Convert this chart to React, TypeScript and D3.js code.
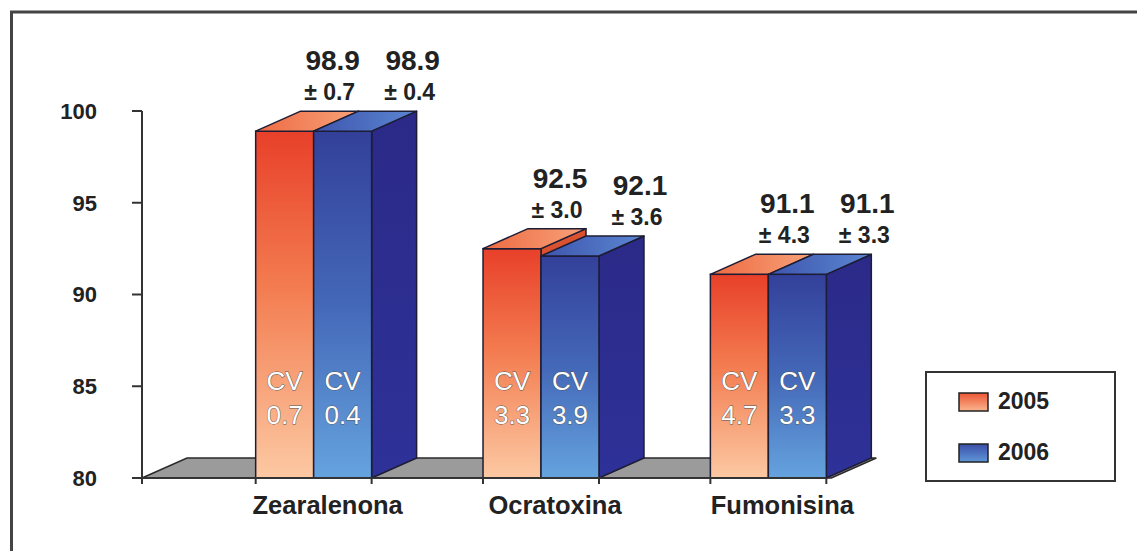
import * as d3 from 'd3';

const categories = ['Zearalenona', 'Ocratoxina', 'Fumonisina'];
const series = ['2005', '2006'];
const mean2005 = [98.9, 92.5, 91.1];
const mean2006 = [98.9, 92.1, 91.1];
const sd2005 = ['0.7', '3.0', '4.3'];
const sd2006 = ['0.4', '3.6', '3.3'];
const cv2005 = ['0.7', '3.3', '4.7'];
const cv2006 = ['0.4', '3.9', '3.3'];
const yTicks = [80, 85, 90, 95, 100];

const W = 1137;
const H = 551;
const FONT = '"Liberation Sans", Arial, sans-serif';
const DX = 45; // depth of the 3d boxes
const DY = 20;

export default function App() {
  const y = d3.scaleLinear().domain([80, 100]).range([478, 111]);
  const x0 = d3.scaleBand<string>()
    .domain(categories)
    .range([142, 940])
    .paddingInner(0.49)
    .paddingOuter(0.5);
  const x1 = d3.scaleBand<string>().domain(series).range([0, x0.bandwidth()]);
  const bw = x1.bandwidth();

  const rows = categories.map((c, i) => ({
    cat: c,
    bars: [
      { s: '2005', v: mean2005[i], sd: sd2005[i], cv: cv2005[i], off: 48 },
      { s: '2006', v: mean2006[i], sd: sd2006[i], cv: cv2006[i], off: 70 },
    ],
  }));

  const base = y(80);
  const xStart = x0.range()[0];
  const xEnd = (x0(categories[categories.length - 1]) ?? 0) + x0.bandwidth() + 5;

  const floor = d3.path();
  floor.moveTo(xStart, base);
  floor.lineTo(xEnd, base);
  floor.lineTo(xEnd + DX, base - DY);
  floor.lineTo(xStart + DX, base - DY);
  floor.closePath();

  const xTicks = [xStart, ...categories.flatMap((c) => [x0(c) ?? 0, (x0(c) ?? 0) + x0.bandwidth()])];

  const stroke = '#1d1d35';

  return (
    <svg width={W} height={H} style={{ position: 'absolute', left: 0, top: 0, background: '#fff' }}>
      <defs>
        <linearGradient id="g2005" x1="0" y1="0" x2="0" y2="1">
          <stop offset="0%" stopColor="#e8402a" />
          <stop offset="45%" stopColor="#f37c50" />
          <stop offset="100%" stopColor="#fcc9a3" />
        </linearGradient>
        <linearGradient id="g2006" x1="0" y1="0" x2="0" y2="1">
          <stop offset="0%" stopColor="#33409a" />
          <stop offset="50%" stopColor="#4468b8" />
          <stop offset="100%" stopColor="#65a3de" />
        </linearGradient>
        <linearGradient id="side" x1="0" y1="0" x2="0" y2="1">
          <stop offset="0%" stopColor="#2b2a88" />
          <stop offset="100%" stopColor="#2e3198" />
        </linearGradient>
        <linearGradient id="top2005" x1="0" y1="0" x2="1" y2="0">
          <stop offset="0%" stopColor="#ee6a42" />
          <stop offset="100%" stopColor="#f7a27a" />
        </linearGradient>
        <linearGradient id="top2006" x1="0" y1="0" x2="1" y2="0">
          <stop offset="0%" stopColor="#3d55ad" />
          <stop offset="100%" stopColor="#5c86d2" />
        </linearGradient>
        <linearGradient id="leg2005" x1="0" y1="0" x2="0" y2="1">
          <stop offset="0%" stopColor="#ec5634" />
          <stop offset="100%" stopColor="#f9b58e" />
        </linearGradient>
        <linearGradient id="leg2006" x1="0" y1="0" x2="0" y2="1">
          <stop offset="0%" stopColor="#3a4ea8" />
          <stop offset="100%" stopColor="#5f97d8" />
        </linearGradient>
      </defs>

      {/* frame */}
      <path d={`M11.5,${H} V12 H${W}`} fill="none" stroke="#444" strokeWidth={3} />

      {/* floor */}
      <path d={floor.toString()} fill="#9b9b9b" stroke="#2a2a2a" strokeWidth={1.5} />

      {/* bars */}
      {rows.map((r) => {
        const gx = x0(r.cat) ?? 0;
        return (
          <g key={r.cat}>
            {r.bars.map((b) => {
              const bx = gx + (x1(b.s) ?? 0);
              const ty = y(b.v);
              const top = `M${bx},${ty} L${bx + DX},${ty - DY} L${bx + bw + DX},${ty - DY} L${bx + bw},${ty} Z`;
              const side = `M${bx + bw},${ty} L${bx + bw + DX},${ty - DY} L${bx + bw + DX},${base - DY} L${bx + bw},${base} Z`;
              return (
                <g key={b.s}>
                  <path d={side} fill={b.s === '2006' ? 'url(#side)' : '#d9512f'} stroke={stroke} strokeWidth={1.5} strokeLinejoin="round" />
                  <rect x={bx} y={ty} width={bw} height={base - ty} fill={`url(#g${b.s})`} stroke={stroke} strokeWidth={1.5} />
                  <path d={top} fill={`url(#top${b.s})`} stroke={stroke} strokeWidth={1.5} strokeLinejoin="round" />
                </g>
              );
            })}
            {r.bars.map((b) => {
              const bx = gx + (x1(b.s) ?? 0);
              const ty = y(b.v);
              const cx = bx + bw / 2;
              return (
                <g key={'t' + b.s} fontFamily={FONT}>
                  <text x={cx + b.off} y={ty - 61} textAnchor="middle" fontSize={28} fontWeight="bold" fill="#222">
                    {b.v.toFixed(1)}
                  </text>
                  <text x={cx + b.off - 3} y={ty - 31} textAnchor="middle" fontSize={23} fontWeight="bold" fill="#222">
                    {'± ' + b.sd}
                  </text>
                  <text x={cx} y={y(84.8)} textAnchor="middle" fontSize={26} fill="#fff" stroke="#555" strokeWidth={0.9} paintOrder="stroke">
                    CV
                  </text>
                  <text x={cx} y={y(82.95)} textAnchor="middle" fontSize={26} fill="#fff" stroke="#555" strokeWidth={0.9} paintOrder="stroke">
                    {b.cv}
                  </text>
                </g>
              );
            })}
          </g>
        );
      })}

      {/* y axis */}
      <g fontFamily={FONT}>
        <line x1={xStart} x2={xStart} y1={y(100)} y2={base} stroke="#333" strokeWidth={2} />
        {yTicks.map((t) => (
          <g key={t}>
            <line x1={xStart - 10} x2={xStart} y1={y(t)} y2={y(t)} stroke="#333" strokeWidth={2} />
            <text x={97} y={y(t)} dy="0.36em" textAnchor="end" fontSize={22} fontWeight="bold" fill="#222">
              {t}
            </text>
          </g>
        ))}
      </g>

      {/* x axis */}
      <g fontFamily={FONT}>
        <line x1={xStart} x2={xEnd - 5} y1={base} y2={base} stroke="#333" strokeWidth={2} />
        {xTicks.map((t, i) => (
          <line key={i} x1={t} x2={t} y1={base} y2={base + 6} stroke="#333" strokeWidth={2} />
        ))}
        {categories.map((c) => (
          <text key={c} x={(x0(c) ?? 0) + x0.bandwidth() / 2 + 14} y={514} textAnchor="middle" fontSize={25.5} fontWeight="bold" fill="#222">
            {c}
          </text>
        ))}
      </g>

      {/* legend */}
      <g fontFamily={FONT}>
        <rect x={926} y={372} width={189} height={109} fill="#fff" stroke="#333" strokeWidth={2} />
        {series.map((s, i) => (
          <g key={s} transform={`translate(959,${393 + i * 51})`}>
            <rect width={29} height={18} fill={`url(#leg${s})`} stroke="#222" strokeWidth={1.5} />
            <text x={39} y={16} fontSize={23} fontWeight="bold" fill="#222">
              {s}
            </text>
          </g>
        ))}
      </g>
    </svg>
  );
}
